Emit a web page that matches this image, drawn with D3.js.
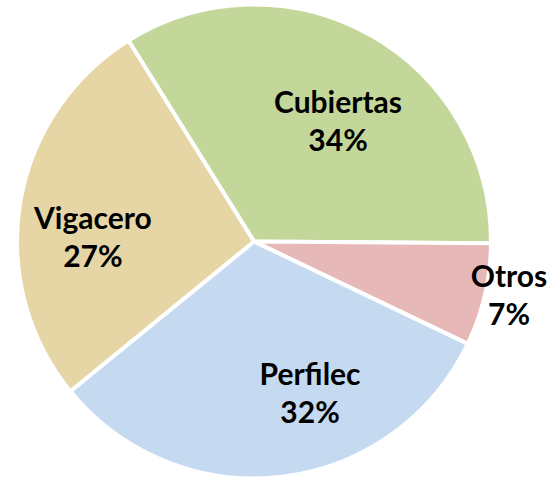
<!DOCTYPE html>
<html>
<head>
<meta charset="utf-8">
<script src="https://cdn.jsdelivr.net/npm/d3@7"></script>
<style>
  body { margin: 0; background: #fff; }
  text { font-family: Lato, "Open Sans", sans-serif; font-weight: bold; }
</style>
</head>
<body>
<div id="container"></div>
<script>
// Data (clockwise, starting from the Cubiertas / Vigacero border)
const categories = ['Cubiertas', 'Otros', 'Perfilec', 'Vigacero'];
const values = [34, 7, 32, 27];
const colors = ['#C4D79B', '#E6B9B8', '#C5D9F1', '#E6D6A6'];

const width = 549;
const height = 481;
const cx = 254, cy = 241.5;
const radius = 237;

const svg = d3.select('#container').append('svg')
    .attr('width', width)
    .attr('height', height);

const g = svg.append('g').attr('transform', `translate(${cx},${cy})`);

// first slice starts a bit left of 12 o'clock
const start = -32 * Math.PI / 180;
const pie = d3.pie().sort(null)
    .startAngle(start)
    .endAngle(start + 2 * Math.PI);

const arcs = pie(values);
const arc = d3.arc().innerRadius(0).outerRadius(radius);

g.selectAll('path')
    .data(arcs)
    .enter().append('path')
    .attr('d', arc)
    .attr('fill', (d, i) => colors[i])
    .attr('stroke', '#fff')
    .attr('stroke-width', 4)
    .attr('stroke-linejoin', 'round');

// label radius as fraction of pie radius (Otros sits outside the pie)
const labelR = [0.615, 1.1, 0.685, 0.68];
const labelShift = [6, -1, -13.4, -8]; // degrees

const labels = g.selectAll('g.label')
    .data(arcs)
    .enter().append('g')
    .attr('class', 'label')
    .attr('transform', (d, i) => {
        const a = (d.startAngle + d.endAngle) / 2 + labelShift[i] * Math.PI / 180;
        const r = radius * labelR[i];
        return `translate(${r * Math.sin(a)},${-r * Math.cos(a)})`;
    });

labels.append('text')
    .attr('text-anchor', 'middle')
    .attr('y', -9)
    .attr('font-size', 30)
    .text((d, i) => categories[i]);

labels.append('text')
    .attr('text-anchor', 'middle')
    .attr('y', 29)
    .attr('font-size', 30)
    .text(d => d.data + '%');
</script>
</body>
</html>
